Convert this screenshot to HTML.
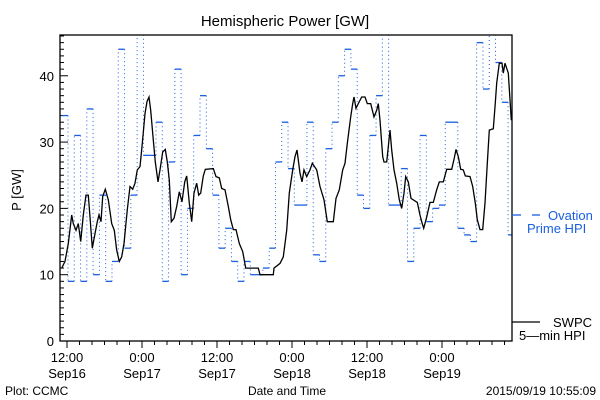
<!DOCTYPE html>
<html><head><meta charset="utf-8"><style>
html,body{margin:0;padding:0;background:#fff;}
svg{display:block;font-family:"Liberation Sans",sans-serif;}
</style></head><body>
<svg id="chart" width="600" height="400" viewBox="0 0 600 400">
<rect x="0" y="0" width="600" height="400" fill="#fff"/>
<text x="285" y="26" font-size="15" text-anchor="middle">Hemispheric Power [GW]</text>
<text transform="translate(21,190) rotate(-90)" font-size="13" text-anchor="middle">P [GW]</text>
<text x="287" y="395" font-size="12" text-anchor="middle">Date and Time</text>
<text x="5" y="395" font-size="12">Plot: CCMC</text>
<text x="596" y="395" font-size="12" text-anchor="end">2015/09/19 10:55:09</text>
<g id="grid-ticks"></g>
<g id="series"></g>
<rect x="60" y="35" width="452" height="306" fill="none" stroke="#000" stroke-width="1.3"/>
<g>
<line x1="512" y1="215" x2="521" y2="215" stroke="#1a5fe0" stroke-width="1.3"/>
<line x1="532" y1="215" x2="540" y2="215" stroke="#1a5fe0" stroke-width="1.3"/>
<text x="548" y="220" font-size="13" fill="#1a5fe0">Ovation</text>
<text x="527" y="233" font-size="13" fill="#1a5fe0">Prime HPI</text>
</g>
<g>
<line x1="512" y1="322" x2="540" y2="322" stroke="#000" stroke-width="1.3"/>
<text x="553" y="327" font-size="13">SWPC</text>
<text x="519" y="340" font-size="13">5—min HPI</text>
</g>
</svg>
<script>
// SWPC 5-min HPI (hours since 2015-09-16 12:00 UT, GW)
const swpcTimes = [-0.85,-0.32,0.21,0.75,1.01,1.44,1.81,2.19,2.61,3.04,3.41,3.68,4.05,4.48,4.85,5.12,5.44,5.71,6.13,6.61,7.15,7.57,7.95,8.37,8.75,9.12,9.65,10.08,10.51,10.88,11.25,11.68,12.05,12.48,12.8,13.12,13.39,13.81,14.13,14.56,14.88,15.31,15.73,16.05,16.37,16.69,17.12,17.55,17.97,18.4,18.83,19.15,19.57,19.95,20.32,20.75,21.07,21.39,21.81,22.13,23.41,23.84,24.37,24.75,25.28,25.81,26.19,26.61,27.04,27.57,28.11,28.59,30.61,30.88,33.01,33.12,34.08,34.61,35.15,35.57,36.11,36.48,36.8,37.28,37.6,37.92,38.35,38.88,39.25,39.95,40.48,41.12,41.65,42.61,43.04,43.57,44.11,44.48,44.85,45.39,45.71,45.92,46.24,46.61,47.15,47.68,48.05,48.59,49.12,49.55,49.81,50.08,50.51,50.72,51.15,51.41,51.68,51.95,52.32,52.75,53.17,53.55,53.92,54.19,54.61,55.04,56.05,56.48,56.75,57.07,57.55,58.08,58.61,59.15,59.57,60.21,60.75,61.55,61.97,62.24,62.61,62.99,63.41,63.73,64.48,64.91,65.33,65.65,66.08,66.51,66.88,67.25,67.57,68.21,68.48,68.75,69.17,69.6,69.81,70.08,70.61,70.88,71.09];
const swpcValues = [11,12,14.7,19,17.7,16.7,17.7,15,19,22,22,18.7,14,16.2,18,19,18,21.8,22.9,21.3,17.7,16.7,13.7,12,12.7,14.7,19.8,23.3,22.9,23.8,25.8,26.3,29.8,34.3,36.1,36.8,34.8,30.3,27,24,25.8,28.5,28.9,27,24.3,18,18.5,20.3,22.5,21,24,24.9,20.8,18,22.3,23.8,22,22.3,24.9,25.9,26,24.8,24.6,23,22.8,20.3,18.3,16.8,16.8,14.7,13.5,11,11,10,10,11,11.7,12.7,16.7,22.3,25.8,27.8,28.8,25.3,24,25.8,24.8,25.8,26.8,25.8,23.3,21.3,18,18,21.5,22.8,25.8,26.8,29.8,33.8,35.8,36.8,35.1,35.8,36.8,36.8,35.8,35.8,33.8,34.8,35.8,33.3,27.8,27,27,29.3,31.8,28.8,25.8,23.8,21.3,20,22.3,24.8,24,21.5,20.9,19,18,17,18.7,20.9,20.9,22.8,24,24,25.9,25.9,27.6,28.9,27.8,25.9,25.8,24.9,24.8,23.3,20.8,18.3,16.8,16.8,20.8,26.8,31.8,32,35.3,38.9,41.9,41.9,40.4,41.9,40.4,36.4,33.3];
// Ovation Prime HPI hourly values (GW)
const ovationStart = -0.85;
const ovationStep = 1.006;
const ovationValues = [34,9,31,9,35,10,22,9,12,44,14,22,48,28,28,33,9,27,41,10,20,31,37,29,22,14,17,12,9,12,10,10,11,14,27,33,26,20.5,20.5,33,13,12,29,33,40,44,41,22,20,31,37,48,20.5,20.5,26,12,17,31,18,20,20.5,33,33,17,16,15,45,38,48,42,36,16];
const yMajorTicks = [0,10,20,30,40];
const xMajorTicks = [0,12,24,36,48,60];
const xTimeLabels = ["12:00","0:00","12:00","0:00","12:00","0:00"];
const xDateLabels = ["Sep16","Sep17","Sep17","Sep18","Sep18","Sep19"];

const NS = "http://www.w3.org/2000/svg";
const L=60,R=512,T=35,B=341, X0=-1.12, X1=71.2, Y0=0, Y1=46.15;
function sx(h){return L+(h-X0)/(X1-X0)*(R-L);}
function sy(v){return B-(v-Y0)/(Y1-Y0)*(B-T);}
function mk(tag,attrs,parent){const e=document.createElementNS(NS,tag);for(const k in attrs)e.setAttribute(k,attrs[k]);parent.appendChild(e);return e;}
const tg=document.getElementById('grid-ticks');
const sg=document.getElementById('series');
const svg=document.getElementById('chart');
// y ticks
for(let v=0;v<=46;v++){
  const major=yMajorTicks.includes(v);
  const t=mk('line',{x1:L,x2:L+(major?8:4),y1:sy(v),y2:sy(v),stroke:'#000','stroke-width':1},tg);
  
  
}
yMajorTicks.forEach(v=>{
  const t=mk('text',{x:L-6,y:sy(v)+5,'font-size':13,'text-anchor':'end'},svg);
  t.textContent=v;
  
  
});
// x ticks
for(let h=0;h<=X1;h+=2){
  const major=xMajorTicks.includes(h);
  const t=mk('line',{x1:sx(h),x2:sx(h),y1:B,y2:B+(major?7:4),stroke:'#000','stroke-width':1},tg);
  
  
}
xMajorTicks.forEach((h,i)=>{
  const a=mk('text',{x:sx(h),y:362,'font-size':13,'text-anchor':'middle'},svg);
  a.textContent=xTimeLabels[i];
  
  
  const b=mk('text',{x:sx(h),y:378,'font-size':13,'text-anchor':'middle'},svg);
  b.textContent=xDateLabels[i];
  
  
});
// clip
const defs=mk('defs',{},svg);
const cp=mk('clipPath',{id:'pc'},defs);
mk('rect',{x:L,y:T,width:R-L,height:B-T},cp);
sg.setAttribute('clip-path','url(#pc)');
// ovation steps
let prevY=null;
ovationValues.forEach((v,i)=>{
  const xa=sx(ovationStart+i*ovationStep), xb=Math.min(R,sx(ovationStart+(i+1)*ovationStep)), y=sy(v);
  if(prevY!==null){
    const d=mk('line',{x1:xa,x2:xa,y1:prevY,y2:y,stroke:'#1a5fe0','stroke-width':1,'stroke-dasharray':'1,3'},sg);
    
    
  }
  const s=mk('line',{x1:xa,x2:xb,y1:y,y2:y,stroke:'#1a5fe0','stroke-width':1.3},sg);
  
  
  prevY=y;
});
// swpc line
const pts=swpcTimes.map((h,i)=>sx(h).toFixed(1)+','+sy(swpcValues[i]).toFixed(1)).join(' ');
const pl=mk('polyline',{points:pts,fill:'none',stroke:'#000','stroke-width':1.3},sg);


</script>
</body></html>
